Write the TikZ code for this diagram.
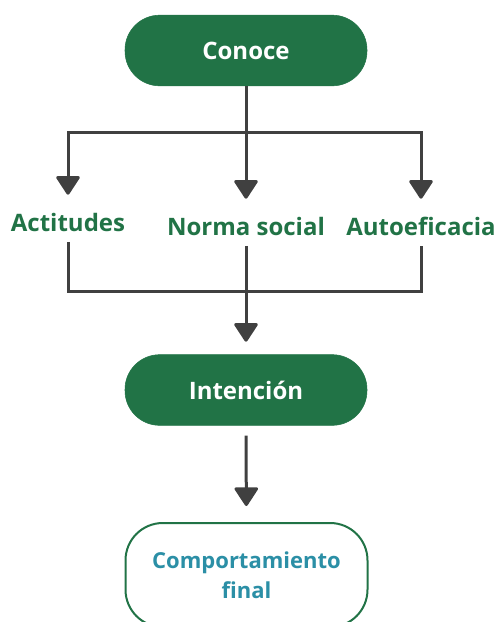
\documentclass[tikz,border=0pt]{standalone}
\usepackage{fontspec}
\setmainfont{Open Sans}
\usepackage{tikz}
\usetikzlibrary{arrows.meta}

\definecolor{ovGreen}{RGB}{33,115,70}
\definecolor{ovTeal}{RGB}{43,143,166}
\definecolor{ovLine}{RGB}{64,64,64}

\tikzset{
  pill/.style={draw=ovGreen, fill=ovGreen, text=white, rounded corners=26pt,
    minimum width=181.5pt, minimum height=53pt, inner sep=0.75pt,
    font=\fontsize{18}{22}\selectfont\bfseries},
  pillopen/.style={draw=ovGreen, fill=white, line width=1.5pt, text=ovTeal,
    rounded corners=28pt, minimum width=181.5pt, minimum height=78pt,
    align=center, font=\fontsize{16.5}{22.5}\selectfont\bfseries},
  factor/.style={text=ovGreen, anchor=base, inner sep=0pt,
    text height=27pt, text depth=8pt, font=\fontsize{18}{22}\selectfont\bfseries},
  link/.style={draw=ovLine, line width=2.25pt},
  flow/.style={link, -{Triangle[length=15pt,width=19pt,round]}},
}

\begin{document}
\begin{tikzpicture}[x=0.75pt,y=0.75pt,yscale=-1,xscale=1]
\useasboundingbox (0,0) rectangle (497,622);
\clip (0,0) rectangle (497,622);

% Text Node
\node [pill] (conoce) at (246,50.5) {Conoce};
% Text Node
\node [factor] (actitudes) at (68,231) {Actitudes};
% Text Node
\node [factor] (norma) at (246,235) {Norma social};
% Text Node
\node [factor] (autoef) at (421,235) {Autoeficacia};
% Text Node
\node [pill] (intencion) at (246,390) {Intención};
% Text Node
\node [pillopen] (final) at (246.5,575) {Comportamiento\\final};

\coordinate (split) at (246,132);
\coordinate (join) at (246,291);

%Straight Lines
\draw [flow] (conoce) -- (norma);
\draw [flow] (split) -| (actitudes);
\draw [flow] (split) -| (autoef);
%Straight Lines
\draw [link] (actitudes) |- (join) -| (autoef);
\draw [flow, shorten >=9.5pt] (norma) -- (intencion);
\draw [flow, shorten <=7.5pt, shorten >=12pt] (intencion) -- (final);

\end{tikzpicture}
\end{document}
